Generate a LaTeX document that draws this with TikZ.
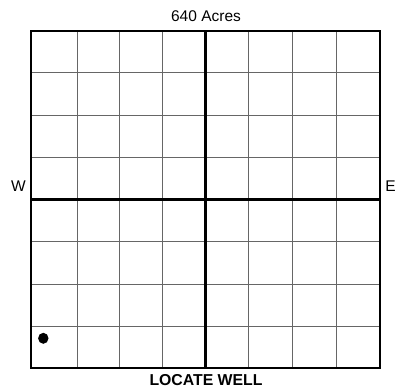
\documentclass[tikz,border=0pt]{standalone}
\usepackage{fontspec}
\setmainfont{Liberation Sans}
\begin{document}
\begin{tikzpicture}[x=1pt,y=-1pt,
  gridline/.style={line width=0.9pt, draw=black!60},
  borderline/.style={line width=2pt, draw=black},
  axisline/.style={line width=3.4pt, draw=black},
  lbl/.style={inner sep=0pt, font=\fontsize{15.5}{17}\selectfont},
  boldlbl/.style={inner sep=0pt, font=\fontsize{15.8}{17}\selectfont\bfseries}]
\useasboundingbox (0,0) rectangle (402,388);
% corners
\coordinate (tl) at (31,30.5);
\coordinate (br) at (380,368.3);
% thin grid lines
\foreach \x in {77,119.5,162,248,292,336}
  \draw[gridline] (\x,30.5) -- (\x,368.3);
\foreach \y in {72.5,115,157,241.5,284,326}
  \draw[gridline] (31,\y) -- (380,\y);
% axes
\draw[axisline] (205.5,30.5) -- (205.5,368.3);
\draw[axisline] (31,199.5) -- (380,199.5);
% border
\draw[borderline] (tl) rectangle (br);
% labels
\node[lbl] (title) at (206,16.5) {640 Acres};
\node[boldlbl] (bottom) at (206,380) {LOCATE WELL};
\node[lbl] (west) at (18.5,186.5) {W};
\node[lbl] (east) at (390.5,186.5) {E};
% well
\fill[black] (43.3,338.3) ellipse [x radius=5.2, y radius=5.5];
\end{tikzpicture}
\end{document}
